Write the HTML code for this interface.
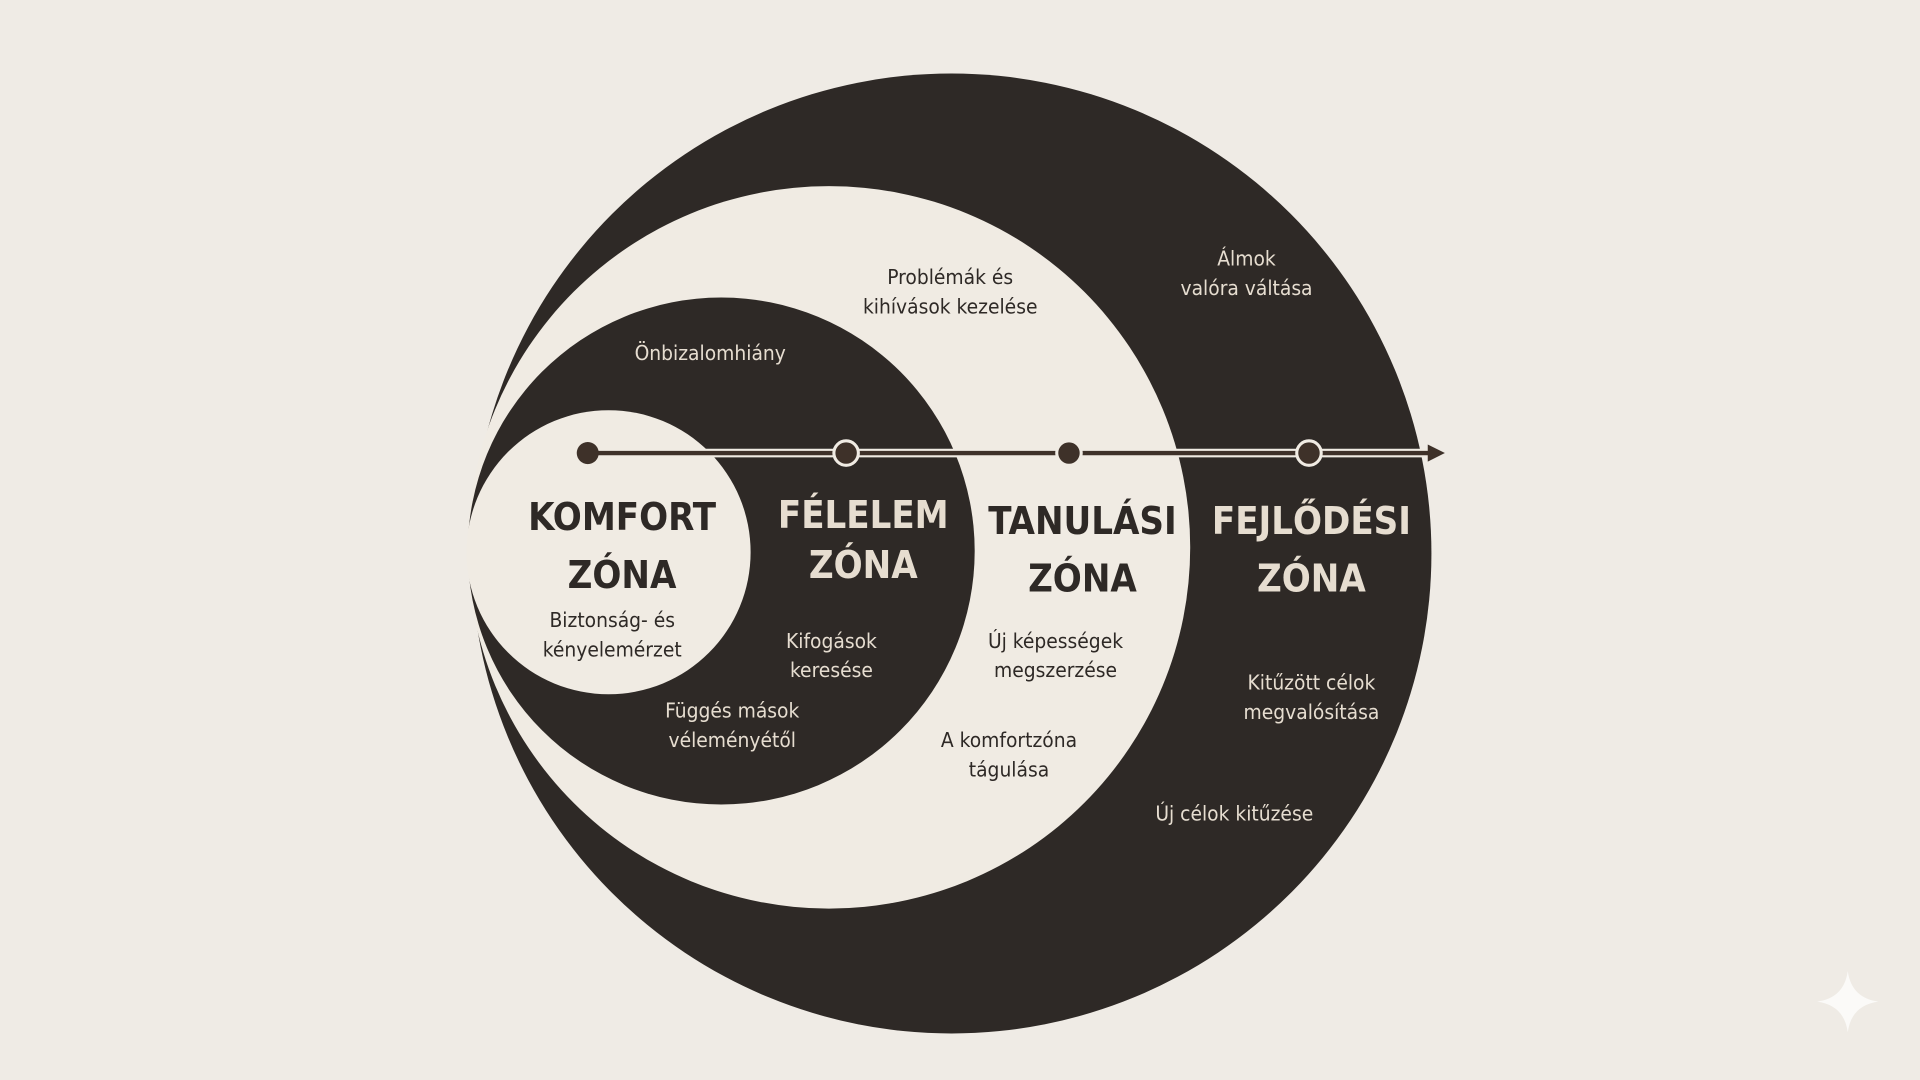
<!DOCTYPE html>
<html><head><meta charset="utf-8"><style>
html,body{margin:0;padding:0;background:#efebe5;}
svg{display:block}
text{font-family:"DejaVu Sans Condensed","Liberation Sans",sans-serif;text-anchor:middle}
.t{fill:#2e2926;font-size:17px}
.l{fill:#e6ddd0;font-size:17px}
.H{font-weight:bold;font-size:31px}
</style></head><body>
<svg width="1920" height="1080" viewBox="0 0 1568 882" preserveAspectRatio="none">
<rect width="1568" height="882" fill="#efebe5"/>
<circle cx="777" cy="452" r="392" fill="#2e2926"/>
<circle cx="677" cy="447" r="295" fill="#f0ebe3"/>
<circle cx="589" cy="450" r="207" fill="#2e2926"/>
<circle cx="497" cy="451" r="116" fill="#f0ebe3"/>
<line x1="480" y1="370" x2="1168" y2="370" stroke="#f0ebe3" stroke-width="7"/>
<line x1="480" y1="370" x2="1168" y2="370" stroke="#3e3129" stroke-width="3.5"/>
<polygon points="1166,363 1180,370 1166,377" fill="#3e3129"/>
<g fill="#3e3129" stroke="#f0ebe3" stroke-width="2.5">
<circle cx="480" cy="370" r="9" stroke="none"/>
<circle cx="691" cy="370" r="10"/>
<circle cx="873" cy="370" r="10"/>
<circle cx="1069" cy="370" r="10"/>
</g>
<text class="t H" x="508" y="433">KOMFORT</text>
<text class="t H" x="508" y="480">ZÓNA</text>
<text class="l H" x="705" y="431">FÉLELEM</text>
<text class="l H" x="705" y="472">ZÓNA</text>
<text class="t H" x="884" y="436">TANULÁSI</text>
<text class="t H" x="884" y="483">ZÓNA</text>
<text class="l H" x="1071" y="436">FEJLŐDÉSI</text>
<text class="l H" x="1071" y="483">ZÓNA</text>
<text class="t" x="500" y="512">Biztonság- és</text>
<text class="t" x="500" y="536">kényelemérzet</text>
<text class="l" x="580" y="294">Önbizalomhiány</text>
<text class="l" x="679" y="529">Kifogások</text>
<text class="l" x="679" y="553">keresése</text>
<text class="l" x="598" y="586">Függés mások</text>
<text class="l" x="598" y="610">véleményétől</text>
<text class="t" x="776" y="232">Problémák és</text>
<text class="t" x="776" y="256">kihívások kezelése</text>
<text class="t" x="862" y="529">Új képességek</text>
<text class="t" x="862" y="553">megszerzése</text>
<text class="t" x="824" y="610">A komfortzóna</text>
<text class="t" x="824" y="634">tágulása</text>
<text class="l" x="1018" y="217">Álmok</text>
<text class="l" x="1018" y="241">valóra váltása</text>
<text class="l" x="1071" y="563">Kitűzött célok</text>
<text class="l" x="1071" y="587">megvalósítása</text>
<text class="l" x="1008" y="670">Új célok kitűzése</text>
<path d="M1509 793 Q1512 815 1534 818 Q1512 821 1509 843 Q1506 821 1484 818 Q1506 815 1509 793Z" fill="#fbfaf8"/>
</svg>
</body></html>
